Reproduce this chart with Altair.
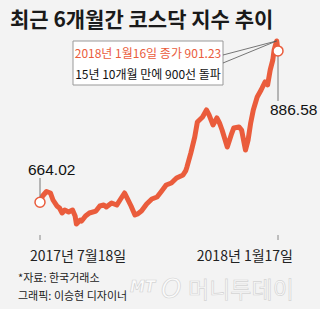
import altair as alt
import pandas as pd

# KOSDAQ closing index, 2017-07-18 .. 2018-01-17
dates = [
    "2017-07-18", "2017-07-20", "2017-07-23", "2017-07-26", "2017-07-28", "2017-07-31",
    "2017-08-02", "2017-08-04", "2017-08-06", "2017-08-09", "2017-08-12", "2017-08-14",
    "2017-08-15", "2017-08-18", "2017-08-19", "2017-08-22", "2017-08-25", "2017-08-30",
    "2017-09-02", "2017-09-05", "2017-09-07", "2017-09-11", "2017-09-15", "2017-09-18",
    "2017-09-21", "2017-09-23", "2017-09-26", "2017-09-29", "2017-10-01", "2017-10-04",
    "2017-10-08", "2017-10-12", "2017-10-16", "2017-10-19", "2017-10-23", "2017-10-27",
    "2017-10-31", "2017-11-05", "2017-11-07", "2017-11-08", "2017-11-11", "2017-11-14",
    "2017-11-16", "2017-11-20", "2017-11-23", "2017-11-25", "2017-11-28", "2017-12-01",
    "2017-12-03", "2017-12-05", "2017-12-09", "2017-12-12", "2017-12-14", "2017-12-18",
    "2017-12-20", "2017-12-23", "2017-12-25", "2017-12-27", "2017-12-29", "2018-01-01",
    "2018-01-04", "2018-01-07", "2018-01-09", "2018-01-11", "2018-01-13", "2018-01-14",
    "2018-01-16", "2018-01-17",
]
values = [
    664.02, 673.3, 679.9, 677.7, 667.4, 658.6,
    655.6, 648.3, 652.7, 649.7, 652.7, 643.9,
    632.1, 638.0, 636.5, 643.9, 648.3, 651.2,
    658.6, 660.0, 657.1, 663.0, 660.0, 668.9,
    677.7, 670.3, 658.6, 645.4, 646.9, 651.2,
    661.5, 668.9, 671.8, 679.2, 689.5, 692.4,
    699.8, 704.2, 710.1, 716.0, 736.6, 760.1,
    782.1, 789.5, 799.8, 792.4, 777.7, 788.0,
    780.6, 770.3, 745.3, 763.0, 773.3, 774.8,
    770.3, 740.9, 755.6, 780.6, 799.8, 818.9,
    829.1, 840.9, 836.5, 858.5, 873.2, 887.9,
    901.23, 886.58,
]

tick_dates = ["2017-07-18", "2018-01-17"]
tick_labels = ["2017년 7월18일", "2018년 1월17일"]
title_text = "최근 6개월간 코스닥 지수 추이"
box_lines = ["2018년 1월16일 종가 901.23", "15년 10개월 만에 900선 돌파"]
footer_lines = ["*자료: 한국거래소", "그래픽: 이승현 디자이너"]
watermark = ["MT", "O", "머니투데이"]

RED = "#ea5c3c"
FONT = "Noto Sans CJK KR, Noto Sans, sans-serif"
NUMFONT = "Liberation Sans, Arial, sans-serif"

df = pd.DataFrame({"date": dates, "value": values})
first = df.iloc[[0]]
last = df.iloc[[-1]]
peak = df[df["value"] == df["value"].max()]
ticks = pd.DataFrame({"date": tick_dates, "label": tick_labels})

xscale = alt.Scale(
    type="utc",
    domain=[
        alt.DateTime(year=2017, month=7, date=8, hours=18, minutes=33, utc=True),
        alt.DateTime(year=2018, month=1, date=28, hours=12, minutes=46, utc=True),
    ],
)
yscale = alt.Scale(domain=[608.6, 917.3], zero=False, nice=False)

X = lambda: alt.X("date:T", scale=xscale, axis=None)
Y = lambda: alt.Y("value:Q", scale=yscale, axis=None)

line = alt.Chart(df).mark_line(
    color=RED, strokeWidth=5, strokeJoin="round", strokeCap="round"
).encode(
    x=alt.X("date:T", scale=xscale, axis=alt.Axis(
        title="", labels=False, ticks=False, grid=False,
        domainColor="#aaaaaa", domainWidth=2)),
    y=Y(),
)

tick_rules = alt.Chart(ticks).mark_rule(color="#888888", strokeWidth=1).encode(
    x=X(), y=alt.value(205), y2=alt.value(210)
)
tick_text1 = alt.Chart(ticks.iloc[[0]]).mark_text(
    align="left", baseline="alphabetic", dx=-10, fontSize=14, font=FONT, color="#222222"
).encode(x=X(), y=alt.value(231), text="label:N")
tick_text2 = alt.Chart(ticks.iloc[[1]]).mark_text(
    align="right", baseline="alphabetic", dx=15, fontSize=14, font=FONT, color="#222222"
).encode(x=X(), y=alt.value(231), text="label:N")

lead_first = alt.Chart(first).mark_rule(color="#777777", strokeWidth=1).encode(
    x=X(), y=Y(), y2=alt.value(148)
)
lead_last = alt.Chart(last).mark_rule(color="#777777", strokeWidth=1).encode(
    x=X(), y=Y(), y2=alt.value(71)
)
circles = alt.Chart(pd.concat([first, last])).mark_point(
    filled=True, fill="white", stroke=RED, strokeWidth=1.5, size=100, opacity=1
).encode(x=X(), y=Y())

label_first = alt.Chart(first).mark_text(
    align="left", baseline="alphabetic", dx=-12, fontSize=15.5, font=NUMFONT, color="#111111"
).encode(x=X(), y=alt.value(145), text=alt.Text("value:Q", format=".2f"))
label_last = alt.Chart(last).mark_text(
    align="left", baseline="alphabetic", dx=-8, fontSize=15.5, font=NUMFONT, color="#111111"
).encode(x=X(), y=alt.value(85), text=alt.Text("value:Q", format=".2f"))

box = alt.Chart(pd.DataFrame({"k": [0]})).mark_rect(
    fill="white", stroke="#999999", strokeWidth=1
).encode(x=alt.value(45), x2=alt.value(195), y=alt.value(11), y2=alt.value(55))

box_t1 = alt.Chart(pd.DataFrame({"t": [box_lines[0]]})).mark_text(
    align="center", baseline="middle", fontSize=12, font=FONT, color=RED
).encode(x=alt.value(120), y=alt.value(24), text="t:N")
box_t2 = alt.Chart(pd.DataFrame({"t": [box_lines[1]]})).mark_text(
    align="center", baseline="middle", fontSize=12, font=FONT, color="#111111"
).encode(x=alt.value(120), y=alt.value(45), text="t:N")

callout1 = alt.Chart(peak).mark_rule(color="#555555", strokeWidth=0.8).encode(
    x=X(), y=Y(), x2=alt.value(195), y2=alt.value(25)
)
callout2 = alt.Chart(peak).mark_rule(color="#555555", strokeWidth=0.8).encode(
    x=X(), y=Y(), x2=alt.value(195), y2=alt.value(33)
)

foot1 = alt.Chart(pd.DataFrame({"t": [footer_lines[0]]})).mark_text(
    align="left", baseline="alphabetic", fontSize=11, font=FONT, color="#222222"
).encode(x=alt.value(-10), y=alt.value(252), text="t:N")
foot2 = alt.Chart(pd.DataFrame({"t": [footer_lines[1]]})).mark_text(
    align="left", baseline="alphabetic", fontSize=11, font=FONT, color="#222222"
).encode(x=alt.value(-10), y=alt.value(270), text="t:N")

wm_style = dict(align="left", baseline="alphabetic", fill="#fbfbfb",
                stroke="#d4d4d4", strokeWidth=0.7)
wm1 = alt.Chart(pd.DataFrame({"t": [watermark[0]]})).mark_text(
    fontSize=15, fontStyle="italic", fontWeight="bold", font="DejaVu Sans", **wm_style
).encode(x=alt.value(102), y=alt.value(262), text="t:N")
wm2 = alt.Chart(pd.DataFrame({"t": [watermark[1]]})).mark_text(
    fontSize=26, fontStyle="italic", font="DejaVu Sans", **wm_style
).encode(x=alt.value(133), y=alt.value(268), text="t:N")
wm3 = alt.Chart(pd.DataFrame({"t": [watermark[2]]})).mark_text(
    fontSize=23, font=FONT, **wm_style
).encode(x=alt.value(160), y=alt.value(268), text="t:N")

chart = alt.layer(
    line, tick_rules, tick_text1, tick_text2, lead_first, lead_last, circles,
    label_first, label_last, box, box_t1, box_t2, callout1, callout2,
    foot1, foot2, wm1, wm2, wm3,
).properties(
    width=265,
    height=210,
    padding={"left": 28, "top": 30, "right": 27, "bottom": 69},
    autosize=alt.AutoSizeParams(type="none"),
    background="#f3f3f3",
    title=alt.TitleParams(
        title_text, anchor="start", dx=-8, fontSize=21, fontWeight="bold",
        font=FONT, color="#1a1a1a", offset=-18, baseline="alphabetic",
    ),
).configure_view(stroke="transparent")

chart.save("out.html", embed_options={"renderer": "svg", "actions": False})
